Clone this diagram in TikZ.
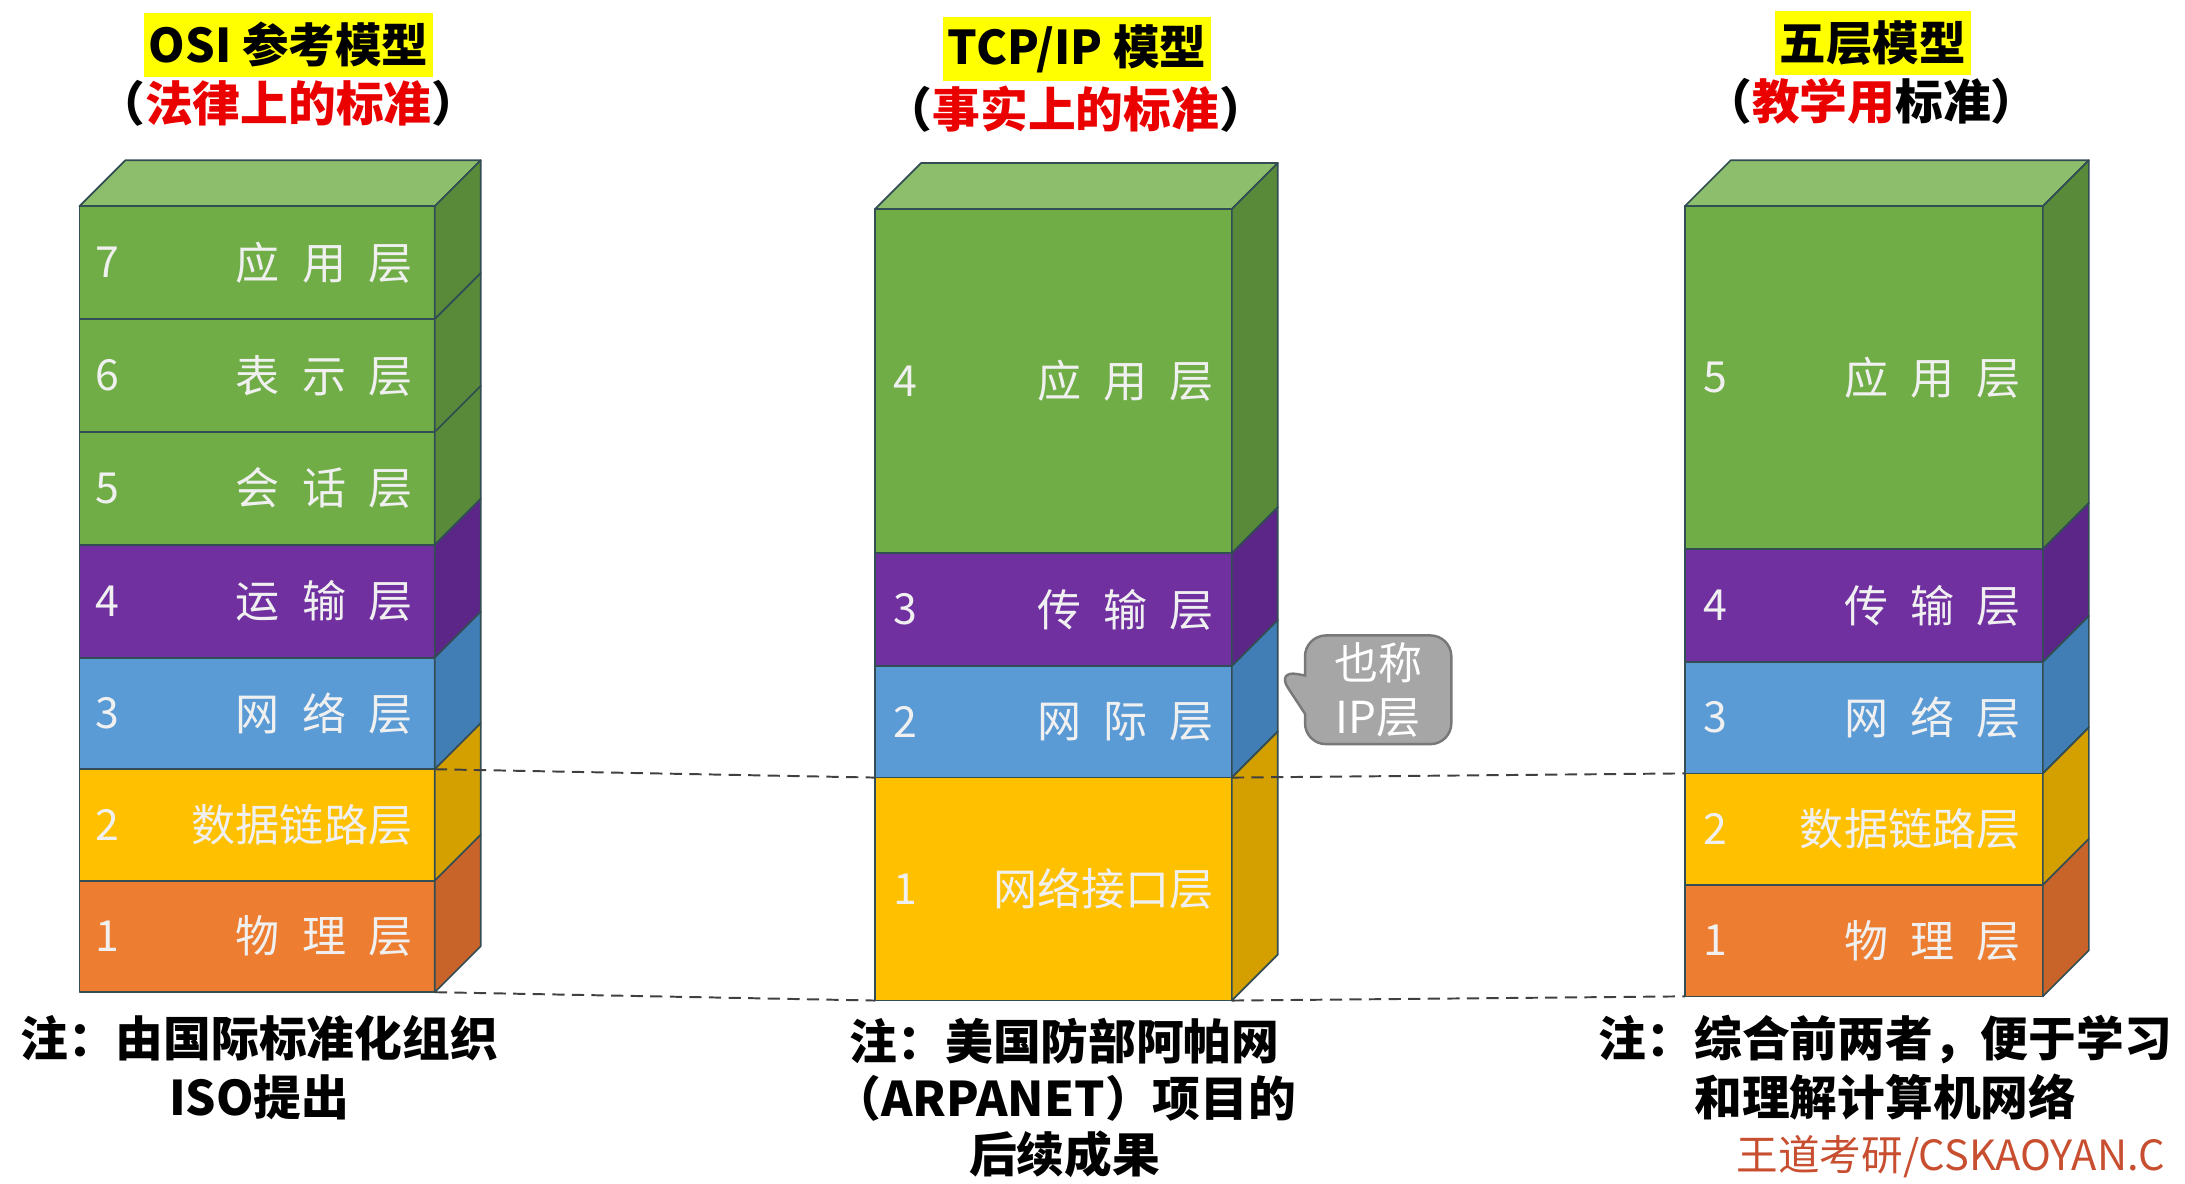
\documentclass[tikz,border=0pt]{standalone}
\usepackage{fontspec}
\setmainfont{Noto Sans CJK SC}
\usepackage{tikz}
\usepackage{xcolor}
\usetikzlibrary{shapes.callouts, positioning}
\definecolor{cGrn}{RGB}{112,173,71}
\definecolor{cGrnTop}{RGB}{141,190,108}
\definecolor{cGrnSide}{RGB}{88,138,58}
\definecolor{cPur}{RGB}{112,48,160}
\definecolor{cPurSide}{RGB}{92,38,136}
\definecolor{cBlu}{RGB}{91,155,213}
\definecolor{cBluSide}{RGB}{66,126,182}
\definecolor{cYel}{RGB}{255,192,0}
\definecolor{cYelSide}{RGB}{212,160,0}
\definecolor{cOrg}{RGB}{237,125,49}
\definecolor{cOrgSide}{RGB}{200,100,42}
\definecolor{cEdge}{RGB}{50,78,84}
\definecolor{cRed}{RGB}{235,0,0}
\definecolor{cHiYel}{RGB}{255,255,0}
\definecolor{cTip}{RGB}{166,166,166}
\definecolor{cTipEdge}{RGB}{120,120,120}
\definecolor{cMark}{RGB}{200,78,48}
\definecolor{cDash}{RGB}{64,64,64}
\tikzset{
	face/.style    ={draw=cEdge, line width=0.7pt, line join=round},
	lyrnum/.style  ={text=white!94!black, font=\fontsize{17.5}{20}\selectfont},
	lyrname/.style ={anchor=east, text=white!94!black, font=\fontsize{18}{22}\selectfont},
	hdr/.style     ={fill=cHiYel, inner xsep=2pt, inner ysep=0pt, minimum height=0.92cm, font=\fontsize{19}{23}\selectfont\bfseries},
	subhdr/.style  ={font=\fontsize{19.5}{23}\selectfont\bfseries},
	note/.style    ={align=center, font=\fontsize{19.5}{24}\selectfont\bfseries},
	% dashed lines joining the stacks
	layerlink/.style={cDash, line width=0.8pt, dash pattern=on 5pt off 3pt},
	tipbox/.style  ={rectangle callout, rounded corners=0.3cm, fill=cTip, draw=cTipEdge, line width=1pt, text=white, align=center,
		minimum width=2.1cm, minimum height=1.56cm, inner sep=1pt, callout pointer width=0.55cm, font=\fontsize{18}{22}\selectfont},
}
\begin{document}
\begin{tikzpicture}[x=0.02cm, y=-0.02cm]
	\useasboundingbox (0,0) rectangle (1568,849);
	% OSI
	\node[hdr] (osihdr) at (207,32) {OSI 参考模型};
	\node[subhdr] (osisub) at (207,74) {（\textcolor{cRed}{法律上的标准}）};
	\draw[face, fill=cGrnTop] (57,148) -- (90,115) -- (345,115) -- (312,148) -- cycle;
	\foreach \n/\yt/\yb/\col/\scol/\lbl in {7/148/229/cGrn/cGrnSide/应\enspace 用\enspace 层, 6/229/310/cGrn/cGrnSide/表\enspace 示\enspace 层,
		5/310/391/cGrn/cGrnSide/会\enspace 话\enspace 层, 4/391/472/cPur/cPurSide/运\enspace 输\enspace 层, 3/472/552/cBlu/cBluSide/网\enspace 络\enspace 层,
		2/552/632/cYel/cYelSide/数据链路层, 1/632/712/cOrg/cOrgSide/物\enspace 理\enspace 层}{
		\draw[face, fill=\col] (57,\yt) rectangle (312,\yb);
		\draw[face, fill=\scol] (312,\yt) -- ++(33,-33) -- (345,{\yb-33}) -- (312,\yb) -- cycle;
		\node[lyrnum] (osin\n) at (77,{(\yt+\yb)/2}) {\n};
		\node[lyrname] (osil\n) at (302,{(\yt+\yb)/2}) {\lbl};
		\coordinate (osi\n-se) at (312,\yb);
	}
	% TCP/IP
	\node[hdr] (tcphdr) at (773,35) {TCP/IP 模型};
	\node[subhdr] (tcpsub) at (772,78) {（\textcolor{cRed}{事实上的标准}）};
	\draw[face, fill=cGrnTop] (628,150) -- (661,117) -- (917,117) -- (884,150) -- cycle;
	\foreach \n/\yt/\yb/\col/\scol/\lbl in {4/150/397/cGrn/cGrnSide/应\enspace 用\enspace 层, 3/397/478/cPur/cPurSide/传\enspace 输\enspace 层,
		2/478/558/cBlu/cBluSide/网\enspace 际\enspace 层, 1/558/718/cYel/cYelSide/网络接口层}{
		\draw[face, fill=\col] (628,\yt) rectangle (884,\yb);
		\draw[face, fill=\scol] (884,\yt) -- ++(33,-33) -- (917,{\yb-33}) -- (884,\yb) -- cycle;
		\node[lyrnum] (tcpn\n) at (650,{(\yt+\yb)/2}) {\n};
		\node[lyrname] (tcpl\n) at (877,{(\yt+\yb)/2}) {\lbl};
		\coordinate (tcp\n-nw) at (628,\yt);
		\coordinate (tcp\n-ne) at (884,\yt);
		\coordinate (tcp\n-sw) at (628,\yb);
		\coordinate (tcp\n-se) at (884,\yb);
	}
	% five layers
	\node[hdr] (fivehdr) at (1344,31) {五层模型};
	\node[subhdr] (fivesub) at (1343,73) {（\textcolor{cRed}{教学用}标准）};
	\draw[face, fill=cGrnTop] (1209,148) -- (1242,115) -- (1499,115) -- (1466,148) -- cycle;
	\foreach \n/\yt/\yb/\col/\scol/\lbl in {5/148/394/cGrn/cGrnSide/应\enspace 用\enspace 层, 4/394/475/cPur/cPurSide/传\enspace 输\enspace 层,
		3/475/555/cBlu/cBluSide/网\enspace 络\enspace 层, 2/555/635/cYel/cYelSide/数据链路层, 1/635/715/cOrg/cOrgSide/物\enspace 理\enspace 层}{
		\draw[face, fill=\col] (1209,\yt) rectangle (1466,\yb);
		\draw[face, fill=\scol] (1466,\yt) -- ++(33,-33) -- (1499,{\yb-33}) -- (1466,\yb) -- cycle;
		\node[lyrnum] (fiven\n) at (1231,{(\yt+\yb)/2}) {\n};
		\node[lyrname] (fivel\n) at (1456,{(\yt+\yb)/2}) {\lbl};
		\coordinate (five\n-nw) at (1209,\yt);
		\coordinate (five\n-sw) at (1209,\yb);
	}
	\draw[layerlink] (osi3-se) -- (tcp1-nw);
	\draw[layerlink] (tcp1-ne) -- (five2-nw);
	\draw[layerlink] (osi1-se) -- (tcp1-sw);
	\draw[layerlink] (tcp1-se) -- (five1-sw);
	\coordinate (tcp2-side) at (916,481);
	\node[tipbox, callout absolute pointer={(tcp2-side)}] (iptip) at (989,495) {也称\\IP层};
	\node[note] (osinote) at (186,766) {注：由国际标准化组织\\ISO提出};
	\node[note] (fivenote) at (1353,766) {注：综合前两者，便于学习\\和理解计算机网络};
	\node[note, font=\fontsize{19.5}{23}\selectfont\bfseries] (tcpnote) at (764,788) {注：美国防部阿帕网\\（ARPANET）项目的\\后续成果};
	\begin{scope}
		\clip (0,0) rectangle (1568,849);
		\node[anchor=west, text=cMark, font=\fontsize{17}{20}\selectfont] (mark) at (1240,830) {王道考研/CSKAOYAN.C};
	\end{scope}
\end{tikzpicture}
\end{document}
